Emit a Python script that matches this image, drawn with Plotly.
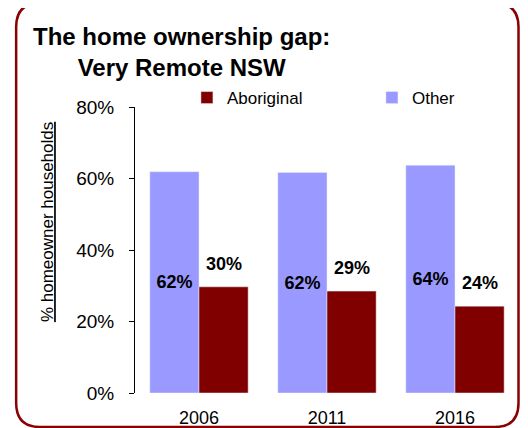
import plotly.graph_objects as go

# ---- data ----
years = ["2006", "2011", "2016"]
other = [61.9, 61.7, 63.7]
aboriginal = [29.7, 28.5, 24.3]
other_labels = ["62%", "62%", "64%"]
aboriginal_labels = ["30%", "29%", "24%"]
y_ticks = [0, 20, 40, 60, 80]
y_tick_text = ["0%", "20%", "40%", "60%", "80%"]

OFF = 8  # page body margin
W, H = 528 - OFF, 428 - OFF
# plot area in screen pixels
L, R, T, B = 135, 519.5, 107, 393
PW, PH = R - L, B - T


def px(x):
    return (x - L) / PW


def py(y):
    return (B - y) / PH


FONT = "Liberation Sans, Arial, sans-serif"
OTHER_C = "#9999FF"
ABOR_C = "#800000"

fig = go.Figure()
fig.add_trace(go.Bar(
    x=years, y=other, name="Other", marker_color=OTHER_C,
    text=other_labels, textposition="inside", insidetextanchor="middle",
    textangle=0,
    textfont=dict(family=FONT, size=18, color="black", weight="bold"),
    hoverinfo="skip",
))
fig.add_trace(go.Bar(
    x=years, y=aboriginal, name="Aboriginal", marker_color=ABOR_C,
    hoverinfo="skip",
))

bargap = 0.232
half = (1 - bargap) / 4
for i, (v, t) in enumerate(zip(aboriginal, aboriginal_labels)):
    fig.add_annotation(
        x=i + half, y=v, xref="x", yref="y", text="<b>%s</b>" % t,
        showarrow=False, yanchor="bottom", yshift=11,
        font=dict(family=FONT, size=18, color="black"),
    )

# title
fig.add_annotation(
    x=px(182), y=py(21), xref="paper", yref="paper",
    text="<b>The home ownership gap:<br>Very Remote NSW</b>",
    showarrow=False, xanchor="center", yanchor="top", align="center",
    font=dict(family=FONT, size=24, color="black"),
)

# y axis title
fig.add_annotation(
    x=px(47), y=py(222), xref="paper", yref="paper",
    text="<u>% homeowner households</u>", textangle=-90,
    showarrow=False, xanchor="center", yanchor="middle",
    font=dict(family=FONT, size=17, color="black"),
)

# rounded border
x0, x1, y0, y1, r = 16, 519, 3, 427, 24
path = (
    f"M {px(x0 + r)},{py(y0)} L {px(x1 - r)},{py(y0)} "
    f"Q {px(x1)},{py(y0)} {px(x1)},{py(y0 + r)} "
    f"L {px(x1)},{py(y1 - r)} Q {px(x1)},{py(y1)} {px(x1 - r)},{py(y1)} "
    f"L {px(x0 + r)},{py(y1)} Q {px(x0)},{py(y1)} {px(x0)},{py(y1 - r)} "
    f"L {px(x0)},{py(y0 + r)} Q {px(x0)},{py(y0)} {px(x0 + r)},{py(y0)} Z"
)
fig.add_shape(type="path", path=path, xref="paper", yref="paper",
              line=dict(color="#8B0000", width=2.5), layer="above")

fig.update_layout(
    width=W, height=H,
    margin=dict(l=L - OFF, r=W - (R - OFF), t=T - OFF, b=H - (B - OFF),
                pad=0, autoexpand=False),
    paper_bgcolor="white", plot_bgcolor="white",
    barmode="group", bargap=bargap, bargroupgap=0,
    font=dict(family=FONT, color="black"),
    showlegend=True,
    legend=dict(
        orientation="h", traceorder="reversed",
        x=px(187), y=py(80), xanchor="left", yanchor="top",
        font=dict(family=FONT, size=17, color="black"),
        itemwidth=30, entrywidth=140, entrywidthmode="pixels",
        bgcolor="rgba(0,0,0,0)", itemclick=False, itemdoubleclick=False,
    ),
    uniformtext=dict(mode="show", minsize=10),
)
fig.update_xaxes(
    showline=False, ticks="", showgrid=False, zeroline=False,
    tickfont=dict(family=FONT, size=18, color="black"),
    ticklabelstandoff=12,
)
fig.update_yaxes(
    range=[0, 80], tickvals=y_ticks, ticktext=y_tick_text,
    showline=True, linecolor="black", linewidth=1,
    ticks="outside", ticklen=5, tickcolor="black",
    showgrid=False, zeroline=False,
    tickfont=dict(family=FONT, size=19, color="black"),
    ticklabelstandoff=11,
)

fig.write_html("out.html")
